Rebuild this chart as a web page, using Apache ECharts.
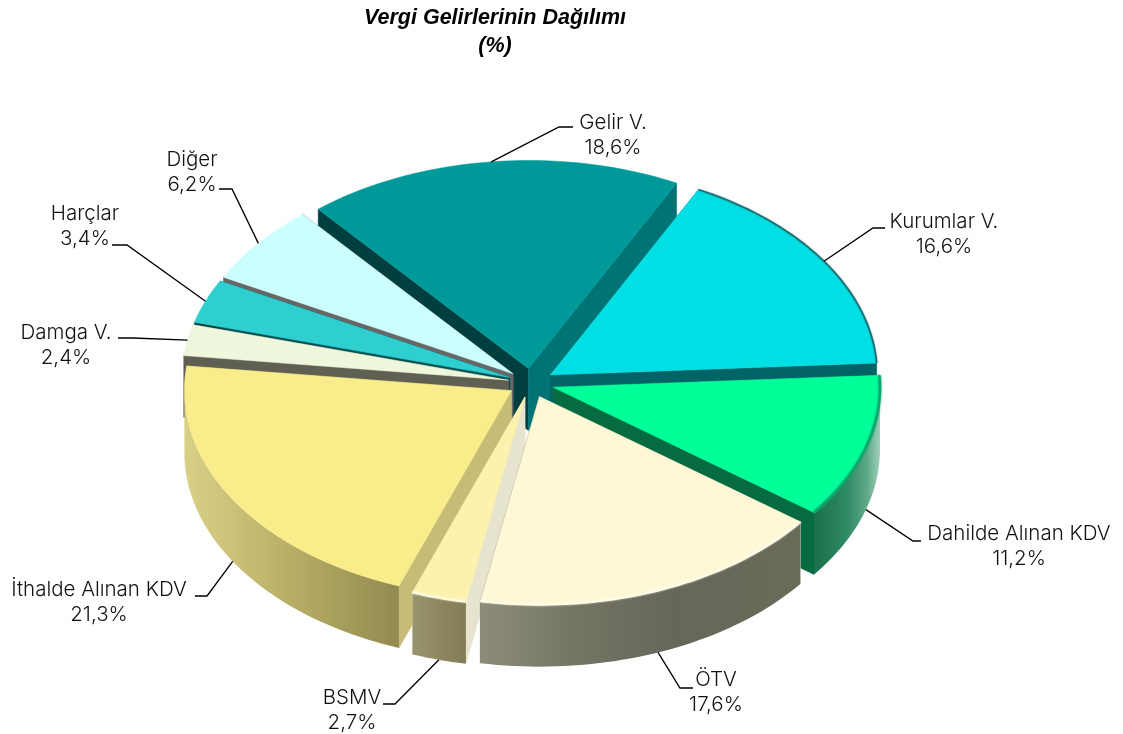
<!DOCTYPE html>
<html>
<head>
<meta charset="utf-8">
<title>Vergi Gelirlerinin Dağılımı</title>
<script src="https://cdn.jsdelivr.net/npm/echarts@6/dist/echarts.min.js"></script>
<style>
  html, body { margin: 0; padding: 0; background: #fff; }
  #chart { width: 1123px; height: 734px; }
</style>
</head>
<body>
<div id="chart"></div>
<script>
// veriler
const categories = ["Gelir V.", "Kurumlar V.", "Dahilde Alınan KDV", "ÖTV", "BSMV", "İthalde Alınan KDV", "Damga V.", "Harçlar", "Diğer"];
const values = [18.6, 16.6, 11.2, 17.6, 2.7, 21.3, 2.4, 3.4, 6.2];

// renkler (sırası categories ile aynı)
const topColors = ["#009999", "#00dfe3", "#00ff99", "#fff8d6", "#fcf2ae", "#f9ec8b", "#eef6dc", "#2fcfcf", "#ccffff"];
// dilimin saat yönündeki ilk ve son kesit yüzü
const startWallColors = ["#003f40", "#007375", "#007375", "#e6e4cf", "#e6e4cf", "#c6bc76", "#5f5f52", "#003f40", "#666666"];
const endWallColors = ["#007375", "#006366", "#076b41", "#6a6a58", "#e6e4cf", "#c6bc76", "#5f5f52", "#004f52", "#666666"];
const outerStops = [
  null,
  null,
  [[0, "#1a7048"], [0.5, "#2f8a64"], [0.8, "#5fa888"], [1, "#a0d0bc"]],
  [[0, "#8c8c78"], [0.3, "#757565"], [0.6, "#66665a"], [1, "#6b6b5a"]],
  [[0, "#98946e"], [1, "#827c55"]],
  [[0, "#d9d088"], [0.45, "#bcb168"], [1, "#938a50"]],
  null,
  null,
  null,
];
const rimColors = [null, "#1c6e72", "#0fa56c", "#fffde8", "#fffbe0", null, null, null, null];
const rimWidths = [0, 1.5, 2.5, 2, 2, 0, 0, 0, 0];

// çizim sırası: arkadan öne (categories indeksleri)
const drawOrder = [0, 8, 1, 7, 6, 2, 5, 4, 3];

// yerleşim
const center = [531, 383];
const radiusX = 327;
const radiusY = 208;
const depth = 62;
const explode = 23;
const startAngle = -40;
// etiket merkezi, kırılma noktası ve çizgi sonu
const labelPos = [
  [613, 135], [944, 234], [1019, 546], [716, 692], [352, 710], [99, 602], [66, 345], [85, 226], [192, 172],
];
const leaderKnee = [
  [[559, 127], [573, 127]],
  [[873, 228], [885, 228]],
  [[913, 541], [921, 541]],
  [[680, 688], [693, 688]],
  [[395, 704], [383, 704]],
  [[207, 596], [195, 596]],
  [[133, 338], [118, 338]],
  [[127, 245], [112, 245]],
  [[232, 189], [219, 189]],
];

const total = values.reduce((a, b) => a + b, 0);
const slices = [];
let acc = startAngle;
values.forEach((v) => {
  const from = acc;
  const to = acc + (v / total) * 360;
  const mid = (from + to) / 2;
  const rad = (mid * Math.PI) / 180;
  slices.push({
    from,
    to,
    mid,
    apex: [
      center[0] + explode * Math.sin(rad),
      center[1] - (explode * Math.cos(rad) * radiusY) / radiusX,
    ],
  });
  acc = to;
});

const rimPoint = (s, deg, dy) => {
  const rad = (deg * Math.PI) / 180;
  return [s.apex[0] + radiusX * Math.sin(rad), s.apex[1] - radiusY * Math.cos(rad) + (dy || 0)];
};

const arcPoints = (s, from, to, dy) => {
  const pts = [];
  const n = Math.max(2, Math.ceil((to - from) / 1.5));
  for (let k = 0; k <= n; k++) pts.push(rimPoint(s, from + ((to - from) * k) / n, dy));
  return pts;
};

const wall = (a, b, color) => ({
  type: "polygon",
  shape: { points: [a, b, [b[0], b[1] + depth], [a[0], a[1] + depth]] },
  style: { fill: color, stroke: color, lineWidth: 0.5 },
});

const renderSlice = (params, api) => {
  const i = api.value(0);
  const s = slices[i];
  const children = [];
  const a = rimPoint(s, s.from);
  const b = rimPoint(s, s.to);
  children.push(wall(s.apex, a, startWallColors[i]));
  children.push(wall(s.apex, b, endWallColors[i]));
  // dış yüz sadece önde görünür
  if (outerStops[i]) {
    const from = Math.max(s.from, 90);
    const to = Math.min(s.to, 270);
    const upper = arcPoints(s, from, to);
    const lower = arcPoints(s, from, to, depth).reverse();
    const xs = upper.map((p) => p[0]);
    const x0 = Math.min(...xs);
    const x1 = Math.max(...xs);
    const stops = outerStops[i].map((st) => ({ offset: st[0], color: st[1] }));
    children.push({
      type: "polygon",
      shape: { points: upper.concat(lower) },
      style: { fill: new echarts.graphic.LinearGradient(x0, 0, x1, 0, stops, true) },
    });
  }
  const face = [s.apex].concat(arcPoints(s, s.from, s.to));
  children.push({
    type: "polygon",
    shape: { points: face },
    style: { fill: topColors[i], stroke: topColors[i], lineWidth: 0.5 },
  });
  if (rimColors[i]) {
    children.push({
      type: "polyline",
      shape: { points: arcPoints(s, s.from, s.to) },
      style: {
        fill: "none",
        stroke: rimColors[i],
        lineWidth: rimWidths[i],
        shadowBlur: rimWidths[i],
        shadowColor: rimColors[i],
      },
    });
  }
  return { type: "group", children };
};

const labelFont = "Inter";
const renderLabel = (params, api) => {
  const i = api.value(0);
  const s = slices[i];
  const front = s.mid > 90 && s.mid < 270;
  const start = rimPoint(s, s.mid, front ? depth : 0);
  const text = categories[i] + "\n" + values[i].toFixed(1).replace(".", ",") + "%";
  return {
    type: "group",
    children: [
      {
        type: "polyline",
        shape: { points: [start].concat(leaderKnee[i]) },
        style: { fill: "none", stroke: "#000", lineWidth: 1.3 },
      },
      {
        type: "text",
        style: {
          x: labelPos[i][0],
          y: labelPos[i][1],
          text,
          align: "center",
          verticalAlign: "middle",
          fill: "#111",
          font: "300 20.5px " + labelFont,
          lineHeight: 25,
        },
      },
    ],
  };
};

const chart = echarts.init(document.getElementById("chart"), null, { renderer: "canvas" });
chart.setOption({
  backgroundColor: "#fff",
  animation: false,
  title: {
    text: "Vergi Gelirlerinin Dağılımı\n(%)",
    left: 490,
    top: -1,
    textAlign: "center",
    textStyle: {
      fontFamily: "Liberation Sans",
      fontSize: 21.5,
      fontStyle: "italic",
      fontWeight: "bold",
      color: "#000",
      lineHeight: 28,
    },
  },
  series: [
    {
      type: "custom",
      coordinateSystem: "none",
      silent: true,
      renderItem: renderSlice,
      data: drawOrder.map((i) => [i, values[i]]),
      z: 2,
    },
    {
      type: "custom",
      coordinateSystem: "none",
      silent: true,
      renderItem: renderLabel,
      data: values.map((v, i) => [i, v]),
      z: 3,
    },
  ],
});
</script>
</body>
</html>
